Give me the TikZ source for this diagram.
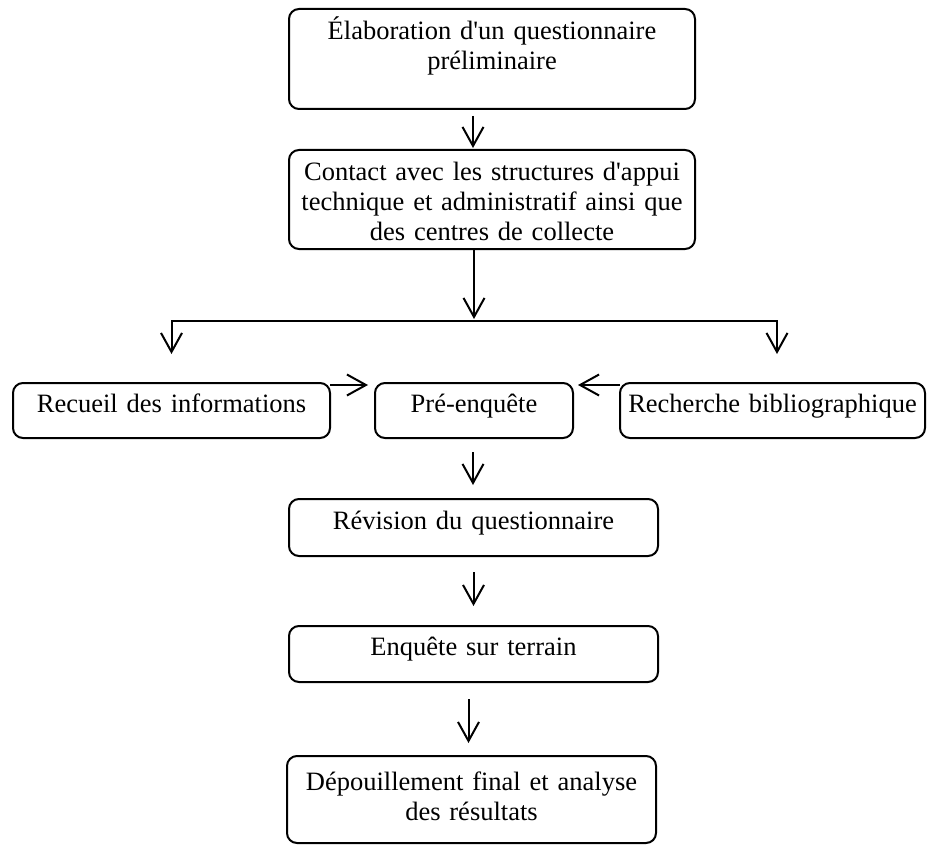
\documentclass[tikz,border=0pt]{standalone}
\usepackage{fontspec}
\setmainfont{Liberation Serif}
\usetikzlibrary{arrows.meta,calc}
\begin{document}
\begin{tikzpicture}[x=1pt,y=-1pt,
  box/.style={draw, line width=2pt, rounded corners=10pt, align=center,
    inner xsep=0pt, inner ysep=0pt, outer sep=0pt,
    text height=18pt, text depth=15pt,
    font=\fontsize{26.5pt}{30pt}\selectfont},
  arr/.style={line width=2pt, -{Straight Barb[length=19pt,width=21pt]}}]
\useasboundingbox (0,0) rectangle (928,845);

% process steps
\node[box, text width=406pt, minimum height=100pt, text depth=56pt] (n1) at (492,59)
  {Élaboration d\textquotesingle un questionnaire\\préliminaire};
\node[box, text width=406pt, minimum height=99pt, text depth=57pt] (n2) at (492,199.5)
  {Contact avec les structures d\textquotesingle appui\\technique et administratif ainsi que\\des centres de collecte};
\node[box, text width=317pt, minimum height=55pt] (n3) at (171.5,410.5)
  {Recueil des informations};
\node[box, text width=198pt, minimum height=55pt] (n4) at (474,410.5)
  {Pré-enquête};
\node[box, text width=305pt, minimum height=55pt] (n5) at (772.5,410.5)
  {Recherche bibliographique};
\node[box, text width=369pt, minimum height=57pt] (n6) at (473.5,527.5)
  {Révision du questionnaire};
\node[box, text width=369pt, minimum height=56pt] (n7) at (473.5,654)
  {Enquête sur terrain};
\node[box, text width=369pt, minimum height=87pt, text depth=37pt] (n8) at (471.5,799.5)
  {Dépouillement final et analyse\\des résultats};

% connectors
\draw[arr] ($(n1.south)+(-19,7)$) -- ($(n2.north)+(-19,-2)$);
\coordinate (fork) at ($(n2.south)+(-18,72)$);
\draw[arr] ($(n2.south)+(-18,0)$) -- ($(fork)+(0,-2)$);
\draw[arr] (fork) -| ($(n3.north)+(0,-29)$);
\draw[arr] (fork) -| ($(n5.north)+(4.5,-29)$);
\draw[arr] ($(n3.north east)+(0,2)$) -- ($(n4.north west)+(-7,2)$);
\draw[arr] ($(n5.north west)+(0,2)$) -- ($(n4.north east)+(5,2)$);
\draw[arr] ($(n4.south)+(-1,14)$) -- ($(n6.north)+(-0.5,-14)$);
\draw[arr] ($(n6.south)+(0,16)$) -- ($(n7.north)+(0,-20)$);
\draw[arr] ($(n7.south)+(-5,17)$) -- ($(n8.north)+(-3,-13)$);
\end{tikzpicture}
\end{document}
